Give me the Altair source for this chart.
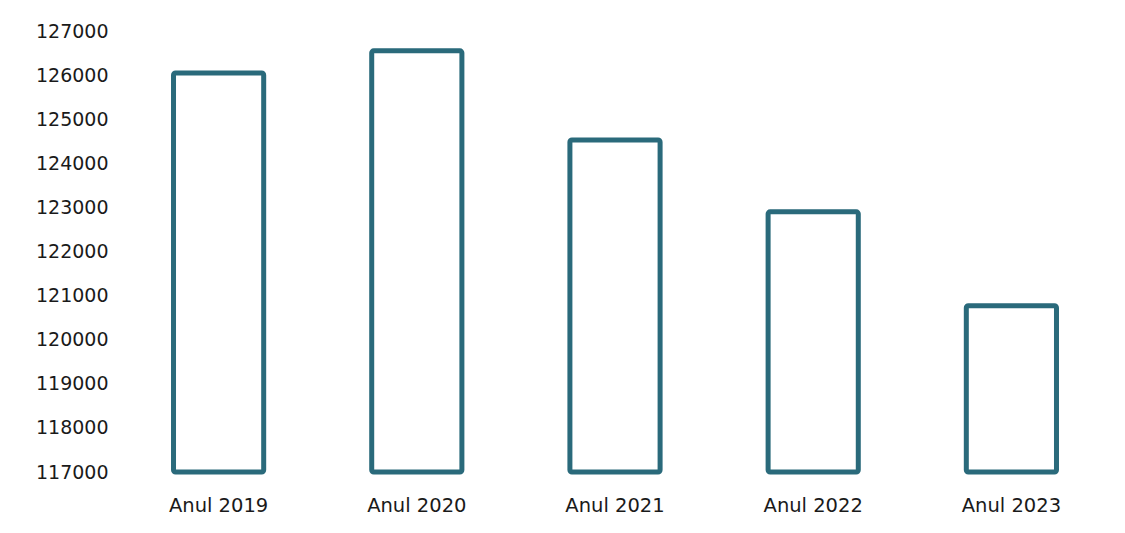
import altair as alt
import pandas as pd

categories = ["Anul 2019", "Anul 2020", "Anul 2021", "Anul 2022", "Anul 2023"]
values = [126050, 126550, 124530, 122900, 120770]
y_ticks = [117000, 118000, 119000, 120000, 121000, 122000, 123000, 124000, 125000, 126000, 127000]

df = pd.DataFrame({"an": categories, "valoare": values})

chart = alt.Chart(df).mark_bar(
    fill="white", stroke="#2a6a7b", strokeWidth=5, cornerRadius=2
).encode(
    x=alt.X("an:N", sort=categories, title=None,
            scale=alt.Scale(paddingInner=0.545, paddingOuter=0.27),
            axis=alt.Axis(labelAngle=0, domain=False, ticks=False, labelPadding=24,
                          labelFont="DejaVu Sans", labelFontSize=19.5, labelColor="#1a1a1a")),
    y=alt.Y("valoare:Q", title=None,
            scale=alt.Scale(domain=[117000, 127000], zero=False, nice=False),
            axis=alt.Axis(values=y_ticks, format="d", domain=False, ticks=False, grid=False,
                          labelPadding=12, labelFont="DejaVu Sans", labelFontSize=19,
                          labelColor="#1a1a1a")),
    y2=alt.datum(117000),
).properties(
    width=990, height=441,
    autosize=alt.AutoSizeParams(type="none"),
    padding={"left": 112, "top": 23, "right": 5, "bottom": 55},
).configure(background="white", view=alt.ViewConfig(strokeWidth=0, stroke="transparent"))

chart.save("out.html", embed_options={"renderer": "svg", "actions": False})
